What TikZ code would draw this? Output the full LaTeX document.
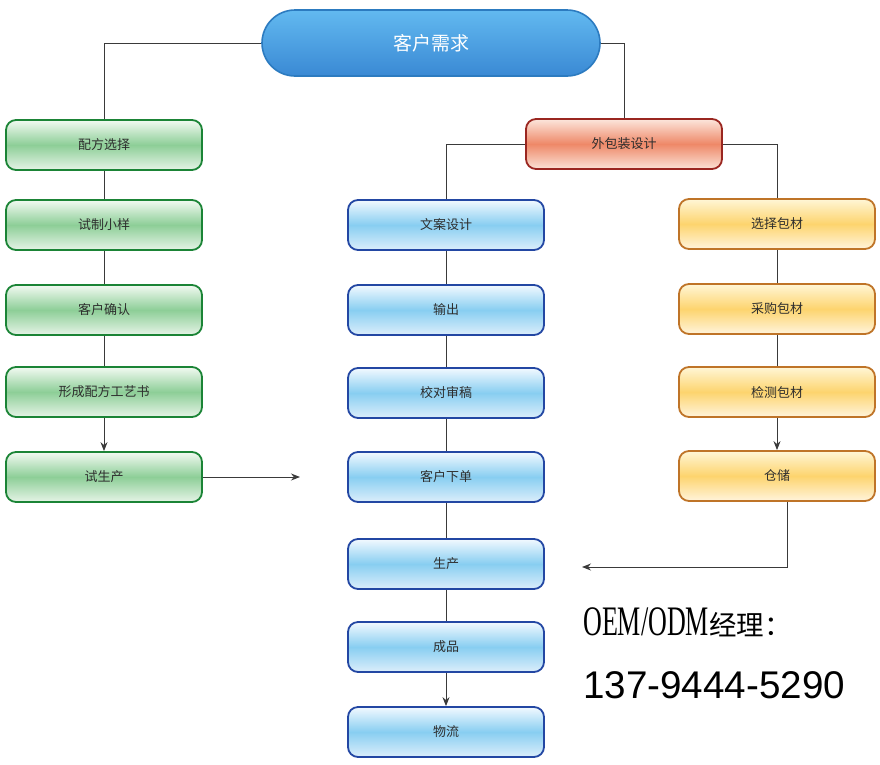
\documentclass[tikz,border=0pt]{standalone}
\usepackage{fontspec}
\usepackage{graphicx}
\setmainfont{Liberation Sans}
\newfontfamily\cjk{Noto Sans CJK SC}
\newfontfamily\mgrserif{Liberation Serif}
\usepackage{tikz}
\usetikzlibrary{arrows,arrows.meta,positioning}

\definecolor{txtgray}{HTML}{2E2E2E}
\definecolor{linegray}{HTML}{3A3A3A}
\definecolor{topline}{HTML}{2C7BC0}
\definecolor{toptop}{HTML}{62B9F0}
\definecolor{topbot}{HTML}{3A89D4}
\definecolor{gline}{HTML}{1B8436}
\definecolor{gtop}{HTML}{F2FAF2}
\definecolor{gmid}{HTML}{8DCE97}
\definecolor{gbot}{HTML}{E6F4E7}
\definecolor{bline}{HTML}{2347A3}
\definecolor{btop}{HTML}{F2F9FF}
\definecolor{bmid}{HTML}{88CEF1}
\definecolor{bbot}{HTML}{DCEEFB}
\definecolor{oline}{HTML}{9A2620}
\definecolor{otop}{HTML}{FCE6DC}
\definecolor{omid}{HTML}{EE8868}
\definecolor{obot}{HTML}{FBE2D6}
\definecolor{yline}{HTML}{BF7428}
\definecolor{ytop}{HTML}{FFF6D6}
\definecolor{ymid}{HTML}{FDD46E}
\definecolor{ybot}{HTML}{FFF4DC}

\begin{document}
\begin{tikzpicture}[x=1pt,y=-1pt,
  box/.style={rounded corners=10pt,minimum width=196pt,minimum height=50pt,line width=1.8pt,text=txtgray,font=\cjk\fontsize{13}{15}\selectfont},
  gbox/.style={box,draw=gline,top color=gtop,bottom color=gbot,middle color=gmid},
  bbox/.style={box,draw=bline,top color=btop,bottom color=bbot,middle color=bmid},
  obox/.style={box,draw=oline,top color=otop,bottom color=obot,middle color=omid},
  ybox/.style={box,draw=yline,top color=ytop,bottom color=ybot,middle color=ymid},
  line/.style={draw=linegray,line width=0.9pt},
  arr/.style={line,-{Stealth[length=9pt,width=7pt]}}]

  \useasboundingbox (0,0) rectangle (880,764);

  \node[rounded corners=33pt,minimum width=338pt,minimum height=66pt,line width=1.6pt,draw=topline,top color=toptop,bottom color=topbot,text=white,font=\cjk\fontsize{19}{22}\selectfont] (need) at (431,43) {客户需求};

  % formula
  \node[gbox] (g1) at (104,145) {配方选择};
  \node[gbox] (g2) at (104,225) {试制小样};
  \node[gbox] (g3) at (104,310) {客户确认};
  \node[gbox] (g4) at (104,392) {形成配方工艺书};
  \node[gbox] (g5) at (104,477) {试生产};

  % packing
  \node[obox] (pkg) at (624,144) {外包装设计};

  \node[bbox] (b1) at (446,225) {文案设计};
  \node[bbox] (b2) at (446,310) {输出};
  \node[bbox] (b3) at (446,393) {校对审稿};
  \node[bbox] (b4) at (446,477) {客户下单};
  \node[bbox] (b5) at (446,564) {生产};
  \node[bbox] (b6) at (446,647) {成品};
  \node[bbox] (b7) at (446,732) {物流};

  \node[ybox] (y1) at (777,224) {选择包材};
  \node[ybox] (y2) at (777,309) {采购包材};
  \node[ybox] (y3) at (777,392) {检测包材};
  \node[ybox] (y4) at (777,476) {仓储};

  \coordinate (gend) at (300,477);
  \coordinate (yend) at (582,567);

  \draw[line] (need.west) -| (g1.north);
  \draw[line] (need.east) -| (pkg.north);
  \draw[line] (pkg.west) -| (b1.north);
  \draw[line] (pkg.east) -| (y1.north);

  \draw[line] (g1) -- (g2);
  \draw[line] (g2) -- (g3);
  \draw[line] (g3) -- (g4);
  \draw[arr] (g4) -- (g5);
  \draw[arr] (g5.east) -- (gend);

  \draw[line] (b1) -- (b2);
  \draw[line] (b2) -- (b3);
  \draw[line] (b3) -- (b4);
  \draw[line] (b4) -- (b5);
  \draw[line] (b5) -- (b6);
  \draw[arr] (b6) -- (b7);

  \draw[line] (y1) -- (y2);
  \draw[line] (y2) -- (y3);
  \draw[arr] (y3) -- (y4);
  \draw[arr] ([xshift=10pt]y4.south) |- (yend);

  \node[anchor=base west,inner sep=0pt,text=black] (mgr) at (583,635) {\scalebox{0.62}[1]{\mgrserif\fontsize{42}{46}\selectfont OEM/ODM}\cjk\fontsize{27.5}{30}\selectfont 经理：};
  \node[anchor=base west,inner sep=0pt,text=black,font=\fontsize{38.6}{42}\selectfont] (tel) at (583,698) {137-9444-5290};
\end{tikzpicture}
\end{document}
